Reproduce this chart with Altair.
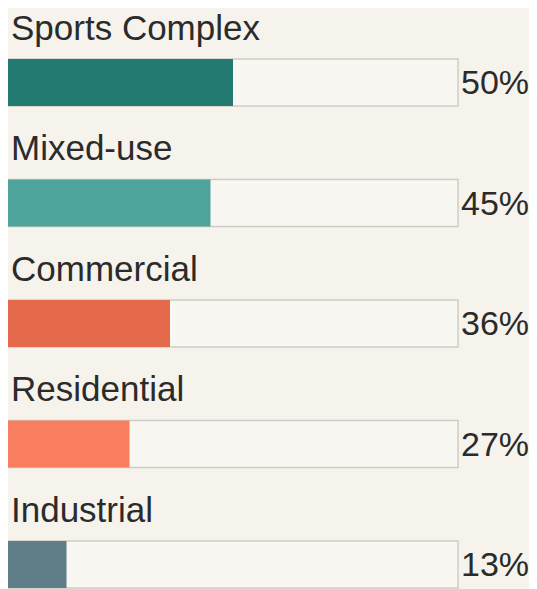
import altair as alt
import pandas as pd

categories = ["Sports Complex", "Mixed-use", "Commercial", "Residential", "Industrial"]
values = [50, 45, 36, 27, 13]
labels = ["50%", "45%", "36%", "27%", "13%"]
colors = ["#237a71", "#4ea39a", "#e5694b", "#f87e5f", "#5f7e87"]

df = pd.DataFrame({"cat": categories, "value": values, "label": labels,
                   "full": [100] * len(categories), "zero": [0] * len(categories)})

W, H = 521, 581
xs = alt.Scale(domain=[0, 100], range=[0, 450])
ys = alt.Scale(domain=categories, paddingInner=0.61, paddingOuter=0.2158, align=0.98)

base = alt.Chart(df)

track = base.mark_bar(color="#f9f7f2", stroke="#cfccc5", strokeWidth=1.5).encode(
    x=alt.X("full:Q", scale=xs, axis=None),
    y=alt.Y("cat:N", scale=ys, axis=None),
)

bars = base.mark_bar().encode(
    x=alt.X("value:Q", scale=xs, axis=None),
    y=alt.Y("cat:N", scale=ys, axis=None),
    color=alt.Color("cat:N", scale=alt.Scale(domain=categories, range=colors), legend=None),
)

names = base.mark_text(align="left", baseline="alphabetic", fontSize=35, font="Liberation Sans",
                       color="#2b2b2b", dx=3, dy=-19).encode(
    x=alt.X("zero:Q", scale=xs, axis=None),
    y=alt.Y("cat:N", scale=ys, axis=None, bandPosition=0),
    text="cat:N",
)

pct = base.mark_text(align="left", baseline="alphabetic", fontSize=34, font="Liberation Sans",
                     color="#2b2b2b", dx=3, dy=12).encode(
    x=alt.X("full:Q", scale=xs, axis=None),
    y=alt.Y("cat:N", scale=ys, axis=None, bandPosition=0.5),
    text="label:N",
)

chart = alt.layer(track, bars, names, pct).properties(
    width=W, height=H, background="#f6f3ed", padding=0,
    autosize=alt.AutoSizeParams(type="none"),
).configure_view(stroke=None)

chart.save("out.html", embed_options={"renderer": "svg", "actions": False})
